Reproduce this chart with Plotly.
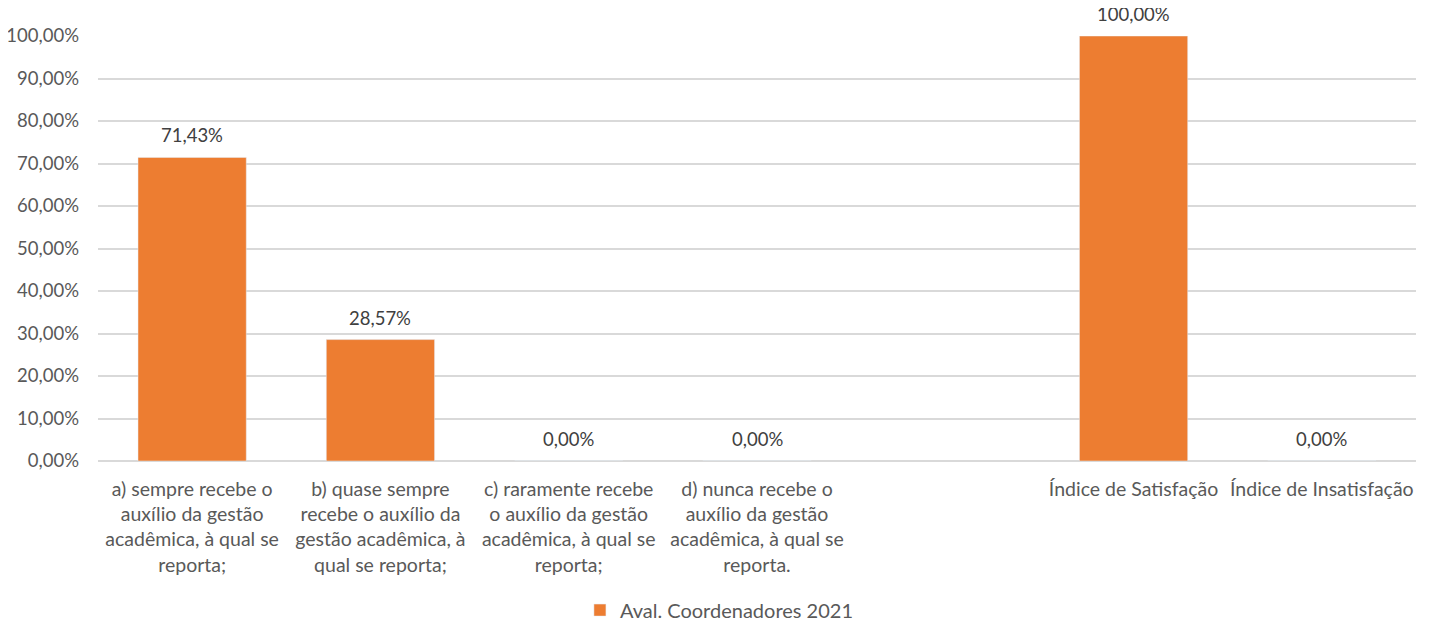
import plotly.graph_objects as go

categories = [
    "a) sempre recebe o<br>auxílio da gestão<br>acadêmica, à qual se<br>reporta;",
    "b) quase sempre<br>recebe o auxílio da<br>gestão acadêmica, à<br>qual se reporta;",
    "c) raramente recebe<br>o auxílio da gestão<br>acadêmica, à qual se<br>reporta;",
    "d) nunca recebe o<br>auxílio da gestão<br>acadêmica, à qual se<br>reporta.",
    " ",
    "Índice de Satisfação",
    "Índice de Insatisfação",
]
values = [0.7143, 0.2857, 0.0, 0.0, None, 1.0, 0.0]
series_name = "Aval. Coordenadores 2021"

font = "Lato, 'Open Sans', sans-serif"
grey = "#595959"

fig = go.Figure(
    go.Bar(
        x=categories,
        y=values,
        name=series_name,
        marker_color="#ED7D31",
        showlegend=True,
    )
)

# data labels, a bit above each bar like in the original
for cat, val in zip(categories, values):
    if val is None:
        continue
    fig.add_annotation(
        x=cat, y=val, text=f"{val * 100:.2f}%".replace(".", ","),
        showarrow=False, yanchor="bottom", yshift=9,
        font=dict(size=18.5, color="#404040"),
    )

# the page has an 8px body margin, so the figure is offset by it
fig.update_layout(
    width=1414,
    height=615,
    margin=dict(l=90, r=6, t=28, b=162),
    paper_bgcolor="white",
    plot_bgcolor="white",
    separators=",.",
    bargap=0.425,
    font=dict(family=font, size=18.5, color=grey),
    legend=dict(
        orientation="h",
        x=0.4715,
        xanchor="center",
        yref="container",
        y=0.021,
        yanchor="middle",
        font=dict(size=20, color=grey),
    ),
)
fig.update_xaxes(
    tickfont=dict(size=19.5, color=grey), showline=False,
    automargin=False, ticklabelstandoff=14,
)
fig.update_yaxes(
    range=[0, 1],
    dtick=0.1,
    tickformat=".2%",
    gridcolor="#d9d9d9",
    gridwidth=1.5,
    zeroline=True,
    zerolinecolor="#d9d9d9",
    zerolinewidth=1.5,
    tickfont=dict(size=18.5, color=grey),
    ticks="",
    ticklabelstandoff=18,
    automargin=False,
)

fig.write_html("out.html")
